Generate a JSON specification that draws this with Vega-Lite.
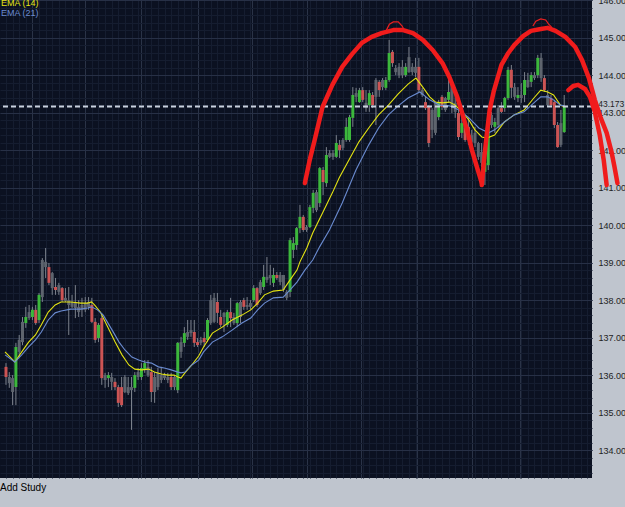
{
  "$schema": "https://vega.github.io/schema/vega-lite/v6.json",
  "width": 592,
  "height": 478,
  "autosize": {"type": "none"},
  "padding": {"left": 0, "top": 0, "right": 33, "bottom": 29},
  "background": "#bfc5ce",
  "config": {"view": {"fill": "#0b1121", "stroke": null}},
  "title": {"text": "Add Study", "orient": "bottom", "anchor": "start", "frame": "group", "offset": 5, "fontSize": 10, "font": "Liberation Sans", "fontWeight": "normal", "color": "#000000"},
  "datasets": {
    "candles": [
{"i":0,"o":136.23,"h":136.33,"l":135.75,"c":135.96,"k":"d"},
{"i":1,"o":135.80,"h":136.09,"l":135.67,"c":135.96,"k":"n"},
{"i":2,"o":135.56,"h":136.01,"l":135.21,"c":135.93,"k":"n"},
{"i":3,"o":135.69,"h":136.87,"l":135.21,"c":136.76,"k":"u"},
{"i":4,"o":136.63,"h":137.08,"l":136.49,"c":136.95,"k":"n"},
{"i":5,"o":136.89,"h":137.56,"l":136.81,"c":137.43,"k":"n"},
{"i":6,"o":137.40,"h":137.83,"l":137.27,"c":137.56,"k":"u"},
{"i":7,"o":137.53,"h":137.88,"l":137.48,"c":137.69,"k":"n"},
{"i":8,"o":137.56,"h":137.83,"l":137.48,"c":137.75,"k":"u"},
{"i":9,"o":137.75,"h":137.88,"l":137.35,"c":137.40,"k":"d"},
{"i":10,"o":137.48,"h":138.20,"l":137.40,"c":138.15,"k":"u"},
{"i":11,"o":138.09,"h":139.13,"l":137.96,"c":139.08,"k":"n"},
{"i":12,"o":138.89,"h":139.40,"l":138.60,"c":139.03,"k":"n"},
{"i":13,"o":138.89,"h":139.00,"l":138.41,"c":138.47,"k":"d"},
{"i":14,"o":138.33,"h":138.76,"l":138.15,"c":138.73,"k":"n"},
{"i":15,"o":138.36,"h":138.60,"l":138.15,"c":138.28,"k":"d"},
{"i":16,"o":138.23,"h":138.47,"l":138.15,"c":138.41,"k":"n"},
{"i":17,"o":138.33,"h":138.36,"l":137.96,"c":138.01,"k":"d"},
{"i":18,"o":137.99,"h":138.33,"l":137.96,"c":138.07,"k":"n"},
{"i":19,"o":137.88,"h":138.36,"l":137.08,"c":138.01,"k":"n"},
{"i":20,"o":137.83,"h":138.15,"l":137.80,"c":137.96,"k":"n"},
{"i":21,"o":137.80,"h":138.41,"l":137.53,"c":137.93,"k":"n"},
{"i":22,"o":137.69,"h":138.01,"l":137.56,"c":137.83,"k":"n"},
{"i":23,"o":137.75,"h":138.07,"l":137.56,"c":137.88,"k":"n"},
{"i":24,"o":137.75,"h":138.09,"l":137.69,"c":137.93,"k":"n"},
{"i":25,"o":137.83,"h":138.09,"l":137.75,"c":137.96,"k":"n"},
{"i":26,"o":137.88,"h":138.07,"l":137.40,"c":137.43,"k":"d"},
{"i":27,"o":137.43,"h":137.53,"l":136.87,"c":136.95,"k":"d"},
{"i":28,"o":137.00,"h":137.40,"l":136.89,"c":137.35,"k":"u"},
{"i":29,"o":137.53,"h":137.67,"l":135.75,"c":135.93,"k":"d"},
{"i":30,"o":135.88,"h":136.07,"l":135.67,"c":136.01,"k":"n"},
{"i":31,"o":135.93,"h":136.09,"l":135.69,"c":136.01,"k":"u"},
{"i":32,"o":135.83,"h":136.07,"l":135.61,"c":135.96,"k":"n"},
{"i":33,"o":135.83,"h":135.93,"l":135.61,"c":135.69,"k":"d"},
{"i":34,"o":135.69,"h":135.75,"l":135.16,"c":135.27,"k":"d"},
{"i":35,"o":135.69,"h":135.96,"l":135.16,"c":135.21,"k":"d"},
{"i":36,"o":135.56,"h":136.01,"l":135.53,"c":135.96,"k":"n"},
{"i":37,"o":135.53,"h":135.96,"l":135.48,"c":135.69,"k":"n"},
{"i":38,"o":135.61,"h":135.96,"l":134.55,"c":135.69,"k":"n"},
{"i":39,"o":135.67,"h":136.09,"l":135.56,"c":136.01,"k":"u"},
{"i":40,"o":135.96,"h":136.20,"l":135.88,"c":136.09,"k":"n"},
{"i":41,"o":135.96,"h":136.33,"l":135.88,"c":136.20,"k":"u"},
{"i":42,"o":136.15,"h":136.41,"l":136.07,"c":136.33,"k":"u"},
{"i":43,"o":136.01,"h":136.41,"l":135.96,"c":136.23,"k":"n"},
{"i":44,"o":136.09,"h":136.23,"l":135.29,"c":135.56,"k":"d"},
{"i":45,"o":135.56,"h":136.09,"l":135.27,"c":135.96,"k":"n"},
{"i":46,"o":135.69,"h":136.20,"l":135.61,"c":136.07,"k":"n"},
{"i":47,"o":135.88,"h":136.23,"l":135.80,"c":136.01,"k":"n"},
{"i":48,"o":135.93,"h":136.07,"l":135.88,"c":136.01,"k":"n"},
{"i":49,"o":135.88,"h":136.07,"l":135.80,"c":135.96,"k":"n"},
{"i":50,"o":135.96,"h":136.07,"l":135.61,"c":135.69,"k":"d"},
{"i":51,"o":135.69,"h":136.01,"l":135.61,"c":135.96,"k":"n"},
{"i":52,"o":135.61,"h":136.89,"l":135.53,"c":136.87,"k":"u"},
{"i":53,"o":136.63,"h":137.03,"l":136.47,"c":136.89,"k":"n"},
{"i":54,"o":136.87,"h":137.29,"l":136.76,"c":137.13,"k":"u"},
{"i":55,"o":137.03,"h":137.48,"l":136.95,"c":137.16,"k":"n"},
{"i":56,"o":137.13,"h":137.48,"l":137.03,"c":137.21,"k":"n"},
{"i":57,"o":137.16,"h":137.48,"l":136.76,"c":136.87,"k":"d"},
{"i":58,"o":136.89,"h":137.00,"l":136.76,"c":136.81,"k":"d"},
{"i":59,"o":136.87,"h":137.03,"l":136.81,"c":136.95,"k":"n"},
{"i":60,"o":137.00,"h":137.16,"l":136.76,"c":136.89,"k":"d"},
{"i":61,"o":136.95,"h":137.53,"l":136.89,"c":137.48,"k":"u"},
{"i":62,"o":137.40,"h":138.15,"l":137.35,"c":138.01,"k":"n"},
{"i":63,"o":137.43,"h":138.20,"l":137.40,"c":138.07,"k":"n"},
{"i":64,"o":137.96,"h":138.20,"l":137.40,"c":137.67,"k":"d"},
{"i":65,"o":137.56,"h":137.75,"l":137.29,"c":137.35,"k":"d"},
{"i":66,"o":137.56,"h":137.69,"l":137.16,"c":137.67,"k":"n"},
{"i":67,"o":137.35,"h":137.75,"l":137.29,"c":137.69,"k":"u"},
{"i":68,"o":137.69,"h":138.07,"l":137.29,"c":137.53,"k":"d"},
{"i":69,"o":137.40,"h":137.67,"l":137.35,"c":137.56,"k":"n"},
{"i":70,"o":137.40,"h":137.96,"l":137.29,"c":137.93,"k":"u"},
{"i":71,"o":137.56,"h":138.01,"l":137.40,"c":137.96,"k":"n"},
{"i":72,"o":138.01,"h":138.07,"l":137.75,"c":137.83,"k":"d"},
{"i":73,"o":137.83,"h":138.09,"l":137.75,"c":137.88,"k":"n"},
{"i":74,"o":137.83,"h":138.01,"l":137.75,"c":137.93,"k":"n"},
{"i":75,"o":138.01,"h":138.41,"l":137.96,"c":138.33,"k":"u"},
{"i":76,"o":138.33,"h":138.36,"l":137.83,"c":137.88,"k":"d"},
{"i":77,"o":138.20,"h":138.55,"l":138.15,"c":138.49,"k":"n"},
{"i":78,"o":138.36,"h":138.95,"l":138.28,"c":138.63,"k":"u"},
{"i":79,"o":138.55,"h":139.16,"l":138.47,"c":138.63,"k":"n"},
{"i":80,"o":138.60,"h":138.95,"l":138.41,"c":138.68,"k":"n"},
{"i":81,"o":138.47,"h":138.87,"l":138.36,"c":138.68,"k":"u"},
{"i":82,"o":138.68,"h":138.76,"l":138.55,"c":138.60,"k":"d"},
{"i":83,"o":138.49,"h":138.76,"l":138.41,"c":138.68,"k":"n"},
{"i":84,"o":138.28,"h":138.68,"l":138.23,"c":138.68,"k":"n"},
{"i":85,"o":138.07,"h":138.28,"l":138.01,"c":138.23,"k":"n"},
{"i":86,"o":138.23,"h":139.67,"l":138.09,"c":139.61,"k":"u"},
{"i":87,"o":139.35,"h":139.69,"l":139.13,"c":139.53,"k":"u"},
{"i":88,"o":139.48,"h":139.96,"l":139.35,"c":139.93,"k":"u"},
{"i":89,"o":139.93,"h":140.55,"l":139.80,"c":140.23,"k":"u"},
{"i":90,"o":140.23,"h":140.28,"l":139.83,"c":139.88,"k":"d"},
{"i":91,"o":139.88,"h":140.01,"l":139.83,"c":139.96,"k":"n"},
{"i":92,"o":139.96,"h":140.55,"l":139.93,"c":140.49,"k":"u"},
{"i":93,"o":140.47,"h":140.95,"l":140.33,"c":140.87,"k":"u"},
{"i":94,"o":140.41,"h":140.95,"l":140.36,"c":140.89,"k":"n"},
{"i":95,"o":140.60,"h":141.56,"l":140.49,"c":141.53,"k":"u"},
{"i":96,"o":141.48,"h":141.56,"l":140.81,"c":141.16,"k":"d"},
{"i":97,"o":141.13,"h":142.09,"l":141.03,"c":141.88,"k":"u"},
{"i":98,"o":141.83,"h":142.01,"l":141.80,"c":141.93,"k":"n"},
{"i":99,"o":141.83,"h":142.01,"l":141.75,"c":141.93,"k":"n"},
{"i":100,"o":141.83,"h":142.41,"l":141.80,"c":142.20,"k":"u"},
{"i":101,"o":142.15,"h":142.28,"l":141.80,"c":142.01,"k":"d"},
{"i":102,"o":142.07,"h":142.33,"l":142.01,"c":142.28,"k":"n"},
{"i":103,"o":142.28,"h":142.87,"l":142.23,"c":142.63,"k":"u"},
{"i":104,"o":142.28,"h":142.95,"l":142.23,"c":142.89,"k":"u"},
{"i":105,"o":142.87,"h":143.69,"l":142.63,"c":143.48,"k":"u"},
{"i":106,"o":143.43,"h":143.67,"l":143.29,"c":143.53,"k":"n"},
{"i":107,"o":143.29,"h":143.67,"l":143.27,"c":143.61,"k":"u"},
{"i":108,"o":143.61,"h":143.69,"l":143.29,"c":143.35,"k":"d"},
{"i":109,"o":143.13,"h":143.61,"l":143.03,"c":143.27,"k":"n"},
{"i":110,"o":143.21,"h":143.61,"l":143.03,"c":143.53,"k":"u"},
{"i":111,"o":143.48,"h":143.56,"l":143.13,"c":143.21,"k":"d"},
{"i":112,"o":143.43,"h":143.93,"l":142.68,"c":143.88,"k":"n"},
{"i":113,"o":143.83,"h":143.88,"l":143.43,"c":143.61,"k":"d"},
{"i":114,"o":143.69,"h":143.93,"l":143.61,"c":143.88,"k":"n"},
{"i":115,"o":143.67,"h":143.96,"l":143.61,"c":143.88,"k":"u"},
{"i":116,"o":143.88,"h":144.95,"l":143.83,"c":144.60,"k":"u"},
{"i":117,"o":144.63,"h":144.68,"l":144.23,"c":144.33,"k":"d"},
{"i":118,"o":144.09,"h":144.28,"l":144.01,"c":144.20,"k":"n"},
{"i":119,"o":144.01,"h":144.33,"l":143.93,"c":144.23,"k":"n"},
{"i":120,"o":144.01,"h":144.41,"l":143.93,"c":144.23,"k":"n"},
{"i":121,"o":144.01,"h":144.33,"l":143.96,"c":144.23,"k":"u"},
{"i":122,"o":144.09,"h":144.76,"l":144.07,"c":144.49,"k":"n"},
{"i":123,"o":144.09,"h":144.33,"l":144.01,"c":144.23,"k":"n"},
{"i":124,"o":144.07,"h":144.47,"l":143.96,"c":144.23,"k":"n"},
{"i":125,"o":144.23,"h":144.47,"l":143.56,"c":143.61,"k":"d"},
{"i":126,"o":143.48,"h":143.67,"l":143.43,"c":143.61,"k":"n"},
{"i":127,"o":143.29,"h":143.43,"l":143.08,"c":143.13,"k":"d"},
{"i":128,"o":143.16,"h":143.21,"l":142.09,"c":142.20,"k":"d"},
{"i":129,"o":142.55,"h":143.13,"l":142.33,"c":143.08,"k":"n"},
{"i":130,"o":142.47,"h":143.29,"l":142.41,"c":143.27,"k":"n"},
{"i":131,"o":142.89,"h":143.35,"l":142.81,"c":143.27,"k":"u"},
{"i":132,"o":143.43,"h":143.48,"l":143.08,"c":143.16,"k":"d"},
{"i":133,"o":143.08,"h":143.43,"l":143.03,"c":143.40,"k":"n"},
{"i":134,"o":143.35,"h":143.88,"l":143.27,"c":143.56,"k":"u"},
{"i":135,"o":143.16,"h":143.83,"l":143.00,"c":143.75,"k":"n"},
{"i":136,"o":143.03,"h":143.69,"l":142.87,"c":143.27,"k":"n"},
{"i":137,"o":143.00,"h":143.08,"l":142.28,"c":142.36,"k":"d"},
{"i":138,"o":142.47,"h":142.89,"l":142.33,"c":142.73,"k":"u"},
{"i":139,"o":142.73,"h":142.89,"l":142.23,"c":142.28,"k":"d"},
{"i":140,"o":142.63,"h":142.89,"l":142.15,"c":142.41,"k":"d"},
{"i":141,"o":142.23,"h":142.55,"l":142.09,"c":142.41,"k":"n"},
{"i":142,"o":142.20,"h":142.63,"l":142.09,"c":142.47,"k":"n"},
{"i":143,"o":141.83,"h":142.23,"l":141.75,"c":142.20,"k":"n"},
{"i":144,"o":141.67,"h":142.20,"l":141.56,"c":141.96,"k":"n"},
{"i":145,"o":141.43,"h":141.93,"l":141.08,"c":141.67,"k":"u"},
{"i":146,"o":141.61,"h":142.81,"l":141.48,"c":142.68,"k":"u"},
{"i":147,"o":142.68,"h":143.03,"l":142.60,"c":142.95,"k":"n"},
{"i":148,"o":142.63,"h":142.87,"l":142.47,"c":142.76,"k":"u"},
{"i":149,"o":142.68,"h":143.21,"l":142.60,"c":143.13,"k":"n"},
{"i":150,"o":143.13,"h":143.29,"l":143.00,"c":143.03,"k":"d"},
{"i":151,"o":143.13,"h":143.43,"l":143.03,"c":143.40,"k":"u"},
{"i":152,"o":143.40,"h":144.23,"l":143.35,"c":144.15,"k":"u"},
{"i":153,"o":144.15,"h":144.28,"l":143.40,"c":143.67,"k":"d"},
{"i":154,"o":143.43,"h":143.80,"l":143.35,"c":143.69,"k":"n"},
{"i":155,"o":143.40,"h":143.69,"l":143.29,"c":143.48,"k":"u"},
{"i":156,"o":143.40,"h":143.80,"l":143.27,"c":143.48,"k":"n"},
{"i":157,"o":143.48,"h":144.09,"l":143.29,"c":143.88,"k":"u"},
{"i":158,"o":143.69,"h":144.07,"l":143.67,"c":143.88,"k":"n"},
{"i":159,"o":143.83,"h":144.09,"l":143.69,"c":144.01,"k":"u"},
{"i":160,"o":143.93,"h":144.09,"l":143.88,"c":144.01,"k":"n"},
{"i":161,"o":144.01,"h":144.55,"l":143.93,"c":144.47,"k":"u"},
{"i":162,"o":143.93,"h":144.60,"l":143.83,"c":144.47,"k":"n"},
{"i":163,"o":143.93,"h":144.01,"l":143.56,"c":143.61,"k":"d"},
{"i":164,"o":143.21,"h":143.61,"l":143.16,"c":143.48,"k":"n"},
{"i":165,"o":143.40,"h":143.48,"l":143.16,"c":143.21,"k":"d"},
{"i":166,"o":143.29,"h":143.35,"l":142.60,"c":142.68,"k":"d"},
{"i":167,"o":142.68,"h":142.76,"l":142.07,"c":142.09,"k":"d"},
{"i":168,"o":142.15,"h":143.08,"l":142.09,"c":142.73,"k":"n"},
{"i":169,"o":142.49,"h":143.48,"l":142.47,"c":143.16,"k":"u"}
    ],
    "ema": [
{"s":"EMA (14)","i":-0.3,"v":136.63},{"s":"EMA (14)","i":2.68,"v":136.36},{"s":"EMA (14)","i":4.76,"v":136.63},{"s":"EMA (14)","i":6.85,"v":136.89},{"s":"EMA (14)","i":8.93,"v":137.08},{"s":"EMA (14)","i":10.71,"v":137.35},{"s":"EMA (14)","i":12.8,"v":137.69},{"s":"EMA (14)","i":14.88,"v":137.88},{"s":"EMA (14)","i":16.67,"v":137.96},{"s":"EMA (14)","i":19.64,"v":137.96},{"s":"EMA (14)","i":22.62,"v":137.93},{"s":"EMA (14)","i":24.7,"v":137.93},{"s":"EMA (14)","i":25.89,"v":137.96},{"s":"EMA (14)","i":26.79,"v":137.88},{"s":"EMA (14)","i":28.57,"v":137.69},{"s":"EMA (14)","i":31.25,"v":137.21},{"s":"EMA (14)","i":33.04,"v":136.89},{"s":"EMA (14)","i":35.12,"v":136.55},{"s":"EMA (14)","i":37.2,"v":136.28},{"s":"EMA (14)","i":38.99,"v":136.17},{"s":"EMA (14)","i":41.07,"v":136.15},{"s":"EMA (14)","i":43.15,"v":136.17},{"s":"EMA (14)","i":44.94,"v":136.09},{"s":"EMA (14)","i":47.02,"v":136.04},{"s":"EMA (14)","i":49.11,"v":136.01},{"s":"EMA (14)","i":50.89,"v":136.01},{"s":"EMA (14)","i":52.08,"v":135.96},{"s":"EMA (14)","i":52.98,"v":135.93},{"s":"EMA (14)","i":54.17,"v":136.07},{"s":"EMA (14)","i":56.25,"v":136.28},{"s":"EMA (14)","i":58.33,"v":136.52},{"s":"EMA (14)","i":59.82,"v":136.76},{"s":"EMA (14)","i":62.5,"v":137.13},{"s":"EMA (14)","i":65.48,"v":137.29},{"s":"EMA (14)","i":68.45,"v":137.48},{"s":"EMA (14)","i":71.43,"v":137.61},{"s":"EMA (14)","i":74.11,"v":137.75},{"s":"EMA (14)","i":76.19,"v":137.93},{"s":"EMA (14)","i":78.27,"v":138.15},{"s":"EMA (14)","i":80.95,"v":138.25},{"s":"EMA (14)","i":83.93,"v":138.28},{"s":"EMA (14)","i":86.01,"v":138.55},{"s":"EMA (14)","i":88.1,"v":138.81},{"s":"EMA (14)","i":88.99,"v":139.03},{"s":"EMA (14)","i":91.07,"v":139.4},{"s":"EMA (14)","i":92.86,"v":139.8},{"s":"EMA (14)","i":95.83,"v":140.33},{"s":"EMA (14)","i":98.81,"v":140.87},{"s":"EMA (14)","i":100.89,"v":141.27},{"s":"EMA (14)","i":103.87,"v":141.75},{"s":"EMA (14)","i":106.85,"v":142.23},{"s":"EMA (14)","i":109.82,"v":142.6},{"s":"EMA (14)","i":112.8,"v":142.95},{"s":"EMA (14)","i":115.77,"v":143.21},{"s":"EMA (14)","i":118.75,"v":143.51},{"s":"EMA (14)","i":121.73,"v":143.77},{"s":"EMA (14)","i":124.11,"v":143.93},{"s":"EMA (14)","i":126.19,"v":143.69},{"s":"EMA (14)","i":128.27,"v":143.43},{"s":"EMA (14)","i":130.06,"v":143.29},{"s":"EMA (14)","i":132.14,"v":143.27},{"s":"EMA (14)","i":134.23,"v":143.29},{"s":"EMA (14)","i":136.01,"v":143.21},{"s":"EMA (14)","i":138.1,"v":143.03},{"s":"EMA (14)","i":140.18,"v":142.81},{"s":"EMA (14)","i":141.96,"v":142.55},{"s":"EMA (14)","i":144.05,"v":142.36},{"s":"EMA (14)","i":145.54,"v":142.33},{"s":"EMA (14)","i":147.92,"v":142.41},{"s":"EMA (14)","i":150.89,"v":142.76},{"s":"EMA (14)","i":153.87,"v":142.95},{"s":"EMA (14)","i":156.85,"v":143.08},{"s":"EMA (14)","i":159.82,"v":143.4},{"s":"EMA (14)","i":161.9,"v":143.61},{"s":"EMA (14)","i":163.99,"v":143.56},{"s":"EMA (14)","i":165.77,"v":143.48},{"s":"EMA (14)","i":167.86,"v":143.21},{"s":"EMA (14)","i":169.05,"v":143.16},
{"s":"EMA (21)","i":-0.3,"v":136.55},{"s":"EMA (21)","i":2.68,"v":136.36},{"s":"EMA (21)","i":4.76,"v":136.55},{"s":"EMA (21)","i":6.85,"v":136.76},{"s":"EMA (21)","i":8.93,"v":136.95},{"s":"EMA (21)","i":10.71,"v":137.16},{"s":"EMA (21)","i":12.8,"v":137.48},{"s":"EMA (21)","i":14.88,"v":137.67},{"s":"EMA (21)","i":16.67,"v":137.72},{"s":"EMA (21)","i":19.64,"v":137.77},{"s":"EMA (21)","i":22.62,"v":137.77},{"s":"EMA (21)","i":24.7,"v":137.8},{"s":"EMA (21)","i":25.89,"v":137.83},{"s":"EMA (21)","i":27.68,"v":137.75},{"s":"EMA (21)","i":29.46,"v":137.61},{"s":"EMA (21)","i":32.14,"v":137.21},{"s":"EMA (21)","i":34.23,"v":136.89},{"s":"EMA (21)","i":36.01,"v":136.68},{"s":"EMA (21)","i":38.1,"v":136.49},{"s":"EMA (21)","i":40.18,"v":136.41},{"s":"EMA (21)","i":41.96,"v":136.36},{"s":"EMA (21)","i":44.05,"v":136.33},{"s":"EMA (21)","i":46.13,"v":136.23},{"s":"EMA (21)","i":47.92,"v":136.2},{"s":"EMA (21)","i":50.0,"v":136.15},{"s":"EMA (21)","i":52.08,"v":136.09},{"s":"EMA (21)","i":52.98,"v":136.07},{"s":"EMA (21)","i":54.17,"v":136.09},{"s":"EMA (21)","i":56.25,"v":136.28},{"s":"EMA (21)","i":58.33,"v":136.41},{"s":"EMA (21)","i":59.82,"v":136.63},{"s":"EMA (21)","i":62.5,"v":136.89},{"s":"EMA (21)","i":65.48,"v":137.03},{"s":"EMA (21)","i":68.45,"v":137.21},{"s":"EMA (21)","i":71.43,"v":137.4},{"s":"EMA (21)","i":74.11,"v":137.53},{"s":"EMA (21)","i":76.19,"v":137.75},{"s":"EMA (21)","i":78.27,"v":137.93},{"s":"EMA (21)","i":80.95,"v":138.07},{"s":"EMA (21)","i":83.93,"v":138.09},{"s":"EMA (21)","i":86.01,"v":138.28},{"s":"EMA (21)","i":88.1,"v":138.49},{"s":"EMA (21)","i":90.48,"v":138.81},{"s":"EMA (21)","i":92.86,"v":139.08},{"s":"EMA (21)","i":94.94,"v":139.43},{"s":"EMA (21)","i":97.92,"v":139.88},{"s":"EMA (21)","i":101.79,"v":140.6},{"s":"EMA (21)","i":105.95,"v":141.48},{"s":"EMA (21)","i":109.82,"v":142.15},{"s":"EMA (21)","i":112.8,"v":142.6},{"s":"EMA (21)","i":115.77,"v":142.95},{"s":"EMA (21)","i":118.75,"v":143.19},{"s":"EMA (21)","i":121.73,"v":143.4},{"s":"EMA (21)","i":125.3,"v":143.56},{"s":"EMA (21)","i":128.27,"v":143.35},{"s":"EMA (21)","i":131.25,"v":143.21},{"s":"EMA (21)","i":134.23,"v":143.19},{"s":"EMA (21)","i":137.2,"v":143.08},{"s":"EMA (21)","i":140.18,"v":142.87},{"s":"EMA (21)","i":143.15,"v":142.6},{"s":"EMA (21)","i":146.13,"v":142.47},{"s":"EMA (21)","i":147.92,"v":142.55},{"s":"EMA (21)","i":150.89,"v":142.76},{"s":"EMA (21)","i":153.87,"v":142.95},{"s":"EMA (21)","i":156.85,"v":143.03},{"s":"EMA (21)","i":159.82,"v":143.27},{"s":"EMA (21)","i":161.9,"v":143.43},{"s":"EMA (21)","i":163.99,"v":143.43},{"s":"EMA (21)","i":165.77,"v":143.35},{"s":"EMA (21)","i":167.86,"v":143.21},{"s":"EMA (21)","i":169.05,"v":143.19}
    ],
    "level": [{"p": 143.173}],
    "arcs": [
{"a":"A","n":0,"i":90.48,"p":141.13},{"a":"A","n":1,"i":91.96,"p":141.75},{"a":"A","n":2,"i":93.45,"p":142.28},{"a":"A","n":3,"i":95.83,"p":143.16},{"a":"A","n":4,"i":98.81,"p":143.75},{"a":"A","n":5,"i":101.79,"p":144.23},{"a":"A","n":6,"i":104.76,"p":144.57},{"a":"A","n":7,"i":107.74,"p":144.87},{"a":"A","n":8,"i":110.71,"p":145.03},{"a":"A","n":9,"i":113.69,"p":145.13},{"a":"A","n":10,"i":117.26,"p":145.21},{"a":"A","n":11,"i":120.24,"p":145.21},{"a":"A","n":12,"i":123.21,"p":145.13},{"a":"A","n":13,"i":126.19,"p":144.95},{"a":"A","n":14,"i":129.17,"p":144.68},{"a":"A","n":15,"i":132.14,"p":144.33},{"a":"A","n":16,"i":134.23,"p":143.96},{"a":"A","n":17,"i":136.61,"p":143.43},{"a":"A","n":18,"i":138.1,"p":143.0},{"a":"A","n":19,"i":139.58,"p":142.55},{"a":"A","n":20,"i":141.07,"p":142.01},{"a":"A","n":21,"i":142.56,"p":141.56},{"a":"A","n":22,"i":144.05,"p":141.13},
{"a":"B","n":0,"i":144.05,"p":141.08},{"a":"B","n":1,"i":144.64,"p":141.67},{"a":"B","n":2,"i":145.54,"p":142.41},{"a":"B","n":3,"i":146.43,"p":143.08},{"a":"B","n":4,"i":147.62,"p":143.56},{"a":"B","n":5,"i":150.0,"p":144.28},{"a":"B","n":6,"i":152.08,"p":144.6},{"a":"B","n":7,"i":153.87,"p":144.81},{"a":"B","n":8,"i":156.55,"p":145.05},{"a":"B","n":9,"i":158.93,"p":145.19},{"a":"B","n":10,"i":161.9,"p":145.24},{"a":"B","n":11,"i":163.99,"p":145.27},{"a":"B","n":12,"i":166.37,"p":145.19},{"a":"B","n":13,"i":169.35,"p":145.03},{"a":"B","n":14,"i":172.32,"p":144.76},{"a":"B","n":15,"i":174.4,"p":144.41},{"a":"B","n":16,"i":176.49,"p":143.93},{"a":"B","n":17,"i":178.27,"p":143.35},{"a":"B","n":18,"i":180.06,"p":142.87},{"a":"B","n":19,"i":181.85,"p":142.47},{"a":"B","n":20,"i":183.33,"p":141.96},{"a":"B","n":21,"i":184.23,"p":141.56},{"a":"B","n":22,"i":185.12,"p":141.13},
{"a":"C","n":0,"i":170.24,"p":143.61},{"a":"C","n":1,"i":171.73,"p":143.72},{"a":"C","n":2,"i":173.21,"p":143.75},{"a":"C","n":3,"i":175.3,"p":143.64},{"a":"C","n":4,"i":176.79,"p":143.43},{"a":"C","n":5,"i":178.27,"p":143.03},{"a":"C","n":6,"i":179.76,"p":142.41},{"a":"C","n":7,"i":180.95,"p":141.75},{"a":"C","n":8,"i":181.85,"p":141.08}
    ],
    "hats": [
{"a":"A","n":0,"i":115.18,"p":145.21},{"a":"A","n":1,"i":116.07,"p":145.37},{"a":"A","n":2,"i":117.26,"p":145.43},{"a":"A","n":3,"i":118.75,"p":145.43},{"a":"A","n":4,"i":119.94,"p":145.32},{"a":"A","n":5,"i":120.54,"p":145.21},
{"a":"B","n":0,"i":159.52,"p":145.32},{"a":"B","n":1,"i":160.42,"p":145.45},{"a":"B","n":2,"i":161.9,"p":145.51},{"a":"B","n":3,"i":163.39,"p":145.48},{"a":"B","n":4,"i":164.29,"p":145.37},{"a":"B","n":5,"i":165.18,"p":145.29}
    ]
  },
  "resolve": {"axis": {"x": "independent", "y": "independent"}},
  "layer": [
    {
      "data": {"name": "candles"},
      "mark": {"type": "rule", "color": "#7b818b", "strokeWidth": 1},
      "encoding": {
        "x": {"field": "i", "type": "quantitative", "scale": {"domain": [-0.3, 175.9], "nice": false, "zero": false},
              "axis": {"orient": "bottom", "labels": false, "ticks": false, "domain": false, "title": null, "grid": true, "gridColor": "#151d30", "tickCount": 88}},
        "y": {"field": "l", "type": "quantitative", "scale": {"domain": [133.266, 146.013], "nice": false, "zero": false},
              "axis": {"orient": "left", "labels": false, "ticks": false, "domain": false, "title": null, "grid": true, "gridColor": "#151d30", "tickCount": 64}},
        "y2": {"field": "h"}
      }
    },
    {
      "data": {"name": "candles"},
      "mark": {"type": "bar", "width": 3},
      "encoding": {
        "x": {"field": "i", "type": "quantitative", "scale": {"domain": [-0.3, 175.9], "nice": false, "zero": false},
              "axis": {"orient": "bottom", "labels": false, "ticks": false, "domain": false, "title": null, "grid": true, "gridColor": "#2a3347", "values": [8, 24, 41, 58, 74.5, 91, 107.5, 124.5, 141, 155.5]}},
        "y": {"field": "o", "type": "quantitative", "scale": {"domain": [133.266, 146.013], "nice": false, "zero": false},
              "axis": {"orient": "right", "title": null, "ticks": false, "domain": false, "grid": true, "gridColor": "#273046", "values": [134, 135, 136, 137, 138, 139, 140, 141, 142, 143, 144, 145, 146], "format": ".2f", "labelFont": "Liberation Sans", "labelFontSize": 9, "labelColor": "#1e1e1e", "labelPadding": 6}},
        "y2": {"field": "c"},
        "color": {"condition": [{"test": "datum.k === 'u'", "value": "#3cb83c"}, {"test": "datum.k === 'd'", "value": "#cc5454"}], "value": "#5e646e"}
      }
    },
    {
      "data": {"name": "ema"},
      "mark": {"type": "line", "strokeWidth": 1.1},
      "encoding": {
        "x": {"field": "i", "type": "quantitative", "scale": {"domain": [-0.3, 175.9], "nice": false, "zero": false}, "axis": null},
        "y": {"field": "v", "type": "quantitative", "scale": {"domain": [133.266, 146.013], "nice": false, "zero": false}, "axis": null},
        "color": {"field": "s", "type": "nominal", "scale": {"domain": ["EMA (14)", "EMA (21)"], "range": ["#e4e412", "#6a8bd0"]},
                  "legend": {"orient": "none", "legendX": -8, "legendY": -2, "padding": 0, "title": null, "symbolSize": 0, "symbolOpacity": 0, "symbolStrokeWidth": 0, "labelOffset": 0, "rowPadding": 0, "labelFontSize": 9, "labelFont": "Liberation Sans",
                             "encode": {"labels": {"update": {"fill": {"scale": "color", "field": "value"}}}}}}
      }
    },
    {
      "data": {"name": "level"},
      "mark": {"type": "rule", "strokeDash": [5, 3], "strokeWidth": 2, "color": "#c9d1de"},
      "encoding": {
        "y": {"field": "p", "type": "quantitative", "scale": {"domain": [133.266, 146.013], "nice": false, "zero": false},
              "axis": {"orient": "right", "title": null, "ticks": false, "domain": false, "grid": false, "values": [143.173], "format": ".3f", "labelFont": "Liberation Sans", "labelFontSize": 8.5, "labelColor": "#1e1e1e", "labelPadding": 1, "labelBaseline": "alphabetic"}}
      }
    },
    {
      "data": {"name": "arcs"},
      "mark": {"type": "line", "strokeWidth": 4.5, "color": "#f01c1c", "strokeCap": "round", "strokeJoin": "round"},
      "encoding": {
        "x": {"field": "i", "type": "quantitative", "scale": {"domain": [-0.3, 175.9], "nice": false, "zero": false}, "axis": null},
        "y": {"field": "p", "type": "quantitative", "scale": {"domain": [133.266, 146.013], "nice": false, "zero": false}, "axis": null},
        "detail": {"field": "a"},
        "order": {"field": "n", "type": "quantitative"}
      }
    },
    {
      "data": {"name": "hats"},
      "mark": {"type": "line", "strokeWidth": 1.2, "color": "#e82020"},
      "encoding": {
        "x": {"field": "i", "type": "quantitative", "scale": {"domain": [-0.3, 175.9], "nice": false, "zero": false}, "axis": null},
        "y": {"field": "p", "type": "quantitative", "scale": {"domain": [133.266, 146.013], "nice": false, "zero": false}, "axis": null},
        "detail": {"field": "a"},
        "order": {"field": "n", "type": "quantitative"}
      }
    }
  ]
}
